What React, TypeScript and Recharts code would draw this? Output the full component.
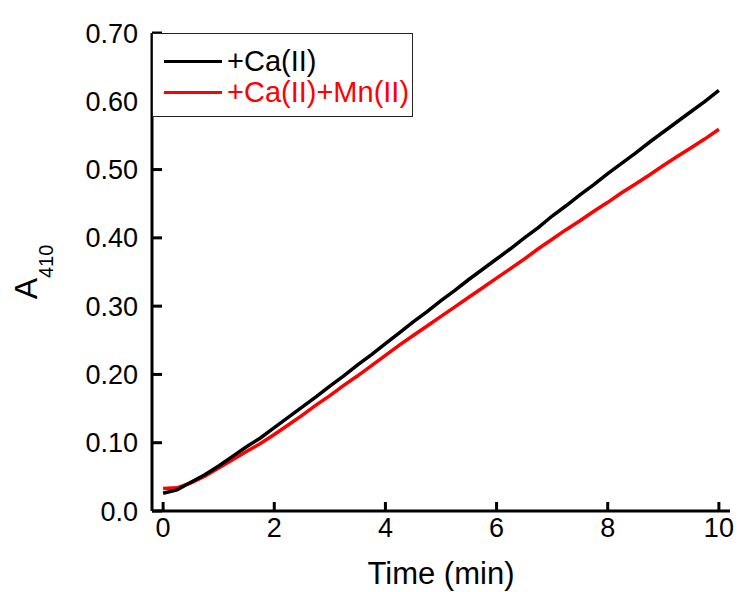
import { LineChart, Line, XAxis, YAxis, Label } from "recharts";

// Time points (min)
const times = [
  0, 0.25, 0.5, 0.75, 1, 1.25, 1.5, 1.75, 2, 2.25, 2.5, 2.75, 3, 3.25, 3.5, 3.75, 4, 4.25, 4.5, 4.75, 5,
  5.25, 5.5, 5.75, 6, 6.25, 6.5, 6.75, 7, 7.25, 7.5, 7.75, 8, 8.25, 8.5, 8.75, 9, 9.25, 9.5, 9.75, 10,
];

// A410 with Ca(II)
const caValues = [
  0.026, 0.031, 0.042, 0.053, 0.066, 0.08, 0.094, 0.107, 0.122, 0.137, 0.152, 0.167, 0.183, 0.198, 0.214,
  0.229, 0.245, 0.261, 0.277, 0.292, 0.308, 0.323, 0.339, 0.354, 0.369, 0.384, 0.4, 0.415, 0.432, 0.447,
  0.463, 0.478, 0.494, 0.509, 0.524, 0.54, 0.555, 0.57, 0.585, 0.6, 0.616,
];

// A410 with Ca(II) + Mn(II)
const caMnValues = [
  0.033, 0.034, 0.041, 0.051, 0.063, 0.075, 0.087, 0.099, 0.112, 0.126, 0.14, 0.155, 0.169, 0.184, 0.198,
  0.213, 0.228, 0.243, 0.257, 0.271, 0.285, 0.299, 0.313, 0.327, 0.341, 0.355, 0.369, 0.384, 0.398, 0.412,
  0.425, 0.439, 0.452, 0.466, 0.479, 0.492, 0.506, 0.519, 0.532, 0.545, 0.559,
];

const xTicks = [0, 2, 4, 6, 8, 10];
const yTicks = [0, 0.1, 0.2, 0.3, 0.4, 0.5, 0.6, 0.7];

const seriesNames = ["+Ca(II)", "+Ca(II)+Mn(II)"];
const seriesColors = ["#000000", "#ff0000"];

const data = times.map((t, i) => ({ t, ca: caValues[i], caMn: caMnValues[i] }));

const FONT = "'Liberation Sans', Arial, sans-serif";

function LegendBox() {
  return (
    <div
      style={{
        position: "absolute",
        left: 152,
        top: 33,
        width: 261,
        height: 84,
        border: "1px solid #222",
        background: "#fff",
        boxSizing: "border-box",
        paddingTop: 12,
        fontFamily: FONT,
        fontSize: 29,
      }}
    >
      {seriesNames.map((name, i) => (
        <div key={name} style={{ display: "flex", alignItems: "center", height: 31 }}>
          <div style={{ width: 58, height: 3, background: seriesColors[i], marginLeft: 11, marginRight: 5 }} />
          <span style={{ color: seriesColors[i], lineHeight: "31px" }}>{name}</span>
        </div>
      ))}
    </div>
  );
}

export default function App() {
  return (
    <div style={{ position: "absolute", left: 0, top: 0, width: 739, height: 592, background: "#fff" }}>
      <LineChart width={739} height={592} data={data} margin={{ top: 33, right: 9, bottom: 51, left: 92 }}>
        <XAxis
          dataKey="t"
          type="number"
          domain={[-0.2, 10.2]}
          ticks={xTicks}
          allowDataOverflow
          height={30}
          tickSize={-9}
          tickMargin={16}
          tickLine={{ stroke: "#000", strokeWidth: 3 }}
          axisLine={{ stroke: "#000", strokeWidth: 3 }}
          tick={{ fill: "#000", fontSize: 27, fontFamily: FONT }}
        >
          <Label
            content={() => (
              <text x={441} y={584} textAnchor="middle" fontSize={31} fontFamily={FONT} fill="#000">
                Time (min)
              </text>
            )}
          />
        </XAxis>
        <XAxis
          xAxisId="top"
          dataKey="t"
          type="number"
          orientation="top"
          domain={[-0.2, 10.2]}
          height={0}
          tick={false}
          tickLine={false}
          axisLine={{ stroke: "#000", strokeWidth: 2 }}
        />
        <YAxis
          type="number"
          domain={[0, 0.7]}
          ticks={yTicks}
          width={60}
          tickSize={-10}
          tickMargin={24}
          tickFormatter={(v: number) => (v === 0 ? "0.0" : v.toFixed(2))}
          tickLine={{ stroke: "#000", strokeWidth: 3 }}
          axisLine={{ stroke: "#000", strokeWidth: 3 }}
          tick={{ fill: "#000", fontSize: 27, fontFamily: FONT }}
        >
          <Label
            content={() => (
              <text
                x={37}
                y={272}
                transform="rotate(-90 37 272)"
                textAnchor="middle"
                fontSize={32}
                fontFamily={FONT}
                fill="#000"
              >
                A<tspan fontSize={20} dy={16}>410</tspan>
              </text>
            )}
          />
        </YAxis>
        <YAxis
          yAxisId="right"
          orientation="right"
          domain={[0, 0.7]}
          width={0}
          tick={false}
          tickLine={false}
          axisLine={{ stroke: "#000", strokeWidth: 2 }}
        />
        <Line
          dataKey="caMn"
          name={seriesNames[1]}
          stroke={seriesColors[1]}
          strokeWidth={3.5}
          dot={false}
          isAnimationActive={false}
        />
        <Line
          dataKey="ca"
          name={seriesNames[0]}
          stroke={seriesColors[0]}
          strokeWidth={3.5}
          dot={false}
          isAnimationActive={false}
        />
      </LineChart>
      <LegendBox />
    </div>
  );
}
